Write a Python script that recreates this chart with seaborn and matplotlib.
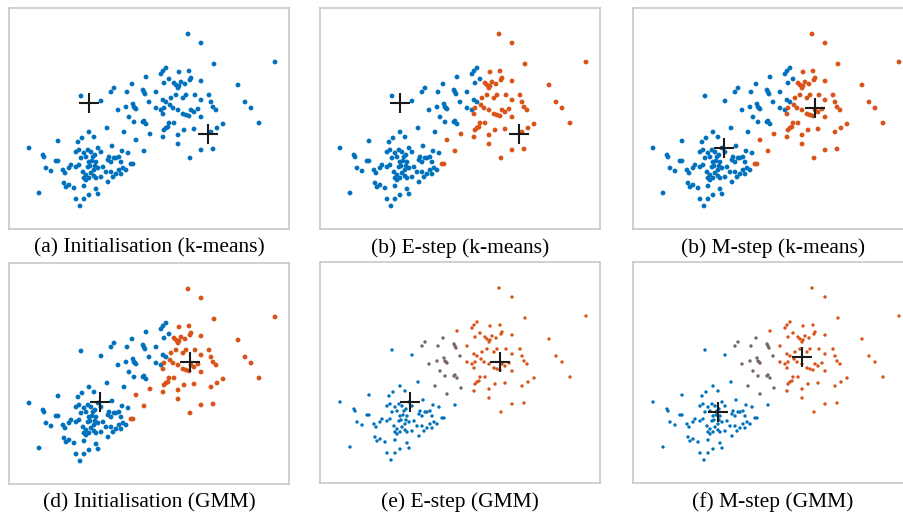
import pandas as pd
import matplotlib
matplotlib.use("Agg")
import matplotlib.pyplot as plt
import seaborn as sns

sns.set_theme(style="white")
plt.rcParams['font.family'] = ['Liberation Serif', 'DejaVu Serif']

# --- points, in the panel's own pixel frame (x right, y down), grouped by
# --- k-means label / GMM label
bb_x = [20, 34, 35, 49, 80, 98, 69, 73, 85, 37, 42, 47, 49, 54, 56, 60, 62, 67, 70,
        67, 70, 79, 82, 89, 92, 72, 77, 84, 87, 80, 79, 74, 77, 82, 85, 89, 94,
        75, 80, 87, 92, 99, 102, 105, 110, 112, 119, 97, 102, 104, 99, 110, 114,
        112, 117, 55, 57, 60, 65, 75, 30, 67, 71, 75, 80, 87, 89, 72, 92,
        75, 86, 83, 81, 86, 85, 77, 103, 107, 100, 113, 107]
bb_y = [140, 147, 149, 133, 124, 120, 134, 130, 129, 160, 163, 153, 153, 162, 165, 160, 157, 159, 157,
        144, 142, 142, 144, 140, 144, 150, 149, 149, 154, 154, 159, 164, 167, 165, 162, 160, 159,
        170, 170, 170, 169, 152, 154, 150, 149, 154, 145, 164, 164, 169, 174, 162, 160,
        166, 162, 175, 179, 177, 180, 178, 185, 191, 198, 191, 187, 181, 186, 88, 93,
        145, 147, 153, 158, 158, 168, 172, 138, 150, 149, 143, 166]

ob_x = [122, 124, 135]
ob_y = [156, 156, 143]

om_x = [127, 141]
om_y = [132, 126]

bm_x = [115, 105, 109, 117, 118, 123, 124, 125, 127, 126, 120, 125, 134, 135, 136, 140,
        134, 135, 137, 102]
bm_y = [124, 80, 102, 99, 84, 76, 96, 99, 101, 100, 109, 114, 82, 84, 86, 94,
        114, 113, 116, 84]

bo_x = [137, 147, 147, 152, 152, 154, 157, 160, 155, 154, 157]
bo_y = [69, 84, 100, 102, 66, 63, 60, 71, 75, 92, 94]

oo_x = [154, 155, 154, 155, 159, 160, 165, 157, 162, 161, 164, 165, 167, 169, 170, 172, 176,
        170, 180, 182, 181, 167, 174, 177, 169, 174, 177, 180, 182, 185, 189, 169, 175, 185,
        192, 192, 186, 192, 200, 202, 204, 207, 205, 202, 208, 214, 169, 192, 204, 179, 192,
        266, 229, 236, 242, 250, 181]
oo_y = [106, 100, 129, 122, 119, 115, 115, 120, 90, 97, 100, 75, 77, 80, 78, 74, 76,
        64, 63, 70, 72, 87, 90, 87, 102, 106, 107, 108, 102, 104, 101, 127, 122, 121,
        109, 73, 87, 92, 87, 94, 99, 102, 56, 124, 120, 116, 136, 142, 141, 26, 35,
        54, 77, 94, 100, 115, 150]

# --- cluster centres (crosses) per panel
centres = {
    'a': [(80, 95), (199, 126)],
    'b': [(80, 95), (199, 126)],
    'c': [(91, 140), (182, 100)],
    'd': [(91, 139), (181, 99)],
    'e': [(90, 140), (180, 100)],
    'f': [(85, 150), (169, 95)],
}
captions = {
    'a': '(a) Initialisation (k-means)',
    'b': '(b) E-step (k-means)',
    'c': '(b) M-step (k-means)',
    'd': '(d) Initialisation (GMM)',
    'e': '(e) E-step (GMM)',
    'f': '(f) M-step (GMM)',
}

groups = [('b', 'b', bb_x, bb_y), ('o', 'b', ob_x, ob_y), ('o', 'm', om_x, om_y),
          ('b', 'm', bm_x, bm_y), ('b', 'o', bo_x, bo_y), ('o', 'o', oo_x, oo_y)]
linhas = []
for km, gmm, xs, ys in groups:
    for x, y in zip(xs, ys):
        linhas.append({'x': x, 'y': y, 'km': km, 'gmm': gmm, 'init': 'b'})
df = pd.DataFrame(linhas)

cores = {'b': '#0072BD', 'o': '#D95319', 'm': '#7a6466'}

# which label column each panel is coloured by
hue_col = {'a': 'init', 'b': 'km', 'c': 'km', 'd': 'km', 'e': 'gmm', 'f': 'gmm'}
tam = {'a': 12, 'b': 12, 'c': 12, 'd': 12, 'e': 6, 'f': 6}

# panel boxes in pixels: left, top
caixas = {'a': (9, 8), 'b': (320, 8), 'c': (633, 8),
          'd': (9, 263), 'e': (320, 262), 'f': (633, 262)}
W, H = 904, 513
pw, ph = 280, 221

fig = plt.figure(figsize=(W / 100, H / 100), dpi=100)
for k, (l, t) in caixas.items():
    ax = fig.add_axes([l / W, 1 - (t + ph) / H, pw / W, ph / H])
    sns.scatterplot(data=df, x='x', y='y', hue=hue_col[k], palette=cores, s=tam[k],
                    linewidth=0, legend=False, ax=ax)
    for cx, cy in centres[k]:
        ax.plot(cx, cy, marker='+', markersize=15, markeredgewidth=1.5, color='#1a1a1a')
    ax.set_xlim(0, pw)
    ax.set_ylim(ph, 0)
    ax.set_xticks([])
    ax.set_yticks([])
    ax.set_xlabel('')
    ax.set_ylabel('')
    for sp in ax.spines.values():
        sp.set_color('#c8c8c8')
        sp.set_linewidth(1.2)
    fig.text((l + pw / 2) / W, 1 - (t + ph + 19) / H, captions[k],
             ha='center', va='center', fontsize=15.5, color='black')

fig.savefig('out.png', dpi=100, facecolor='white')
